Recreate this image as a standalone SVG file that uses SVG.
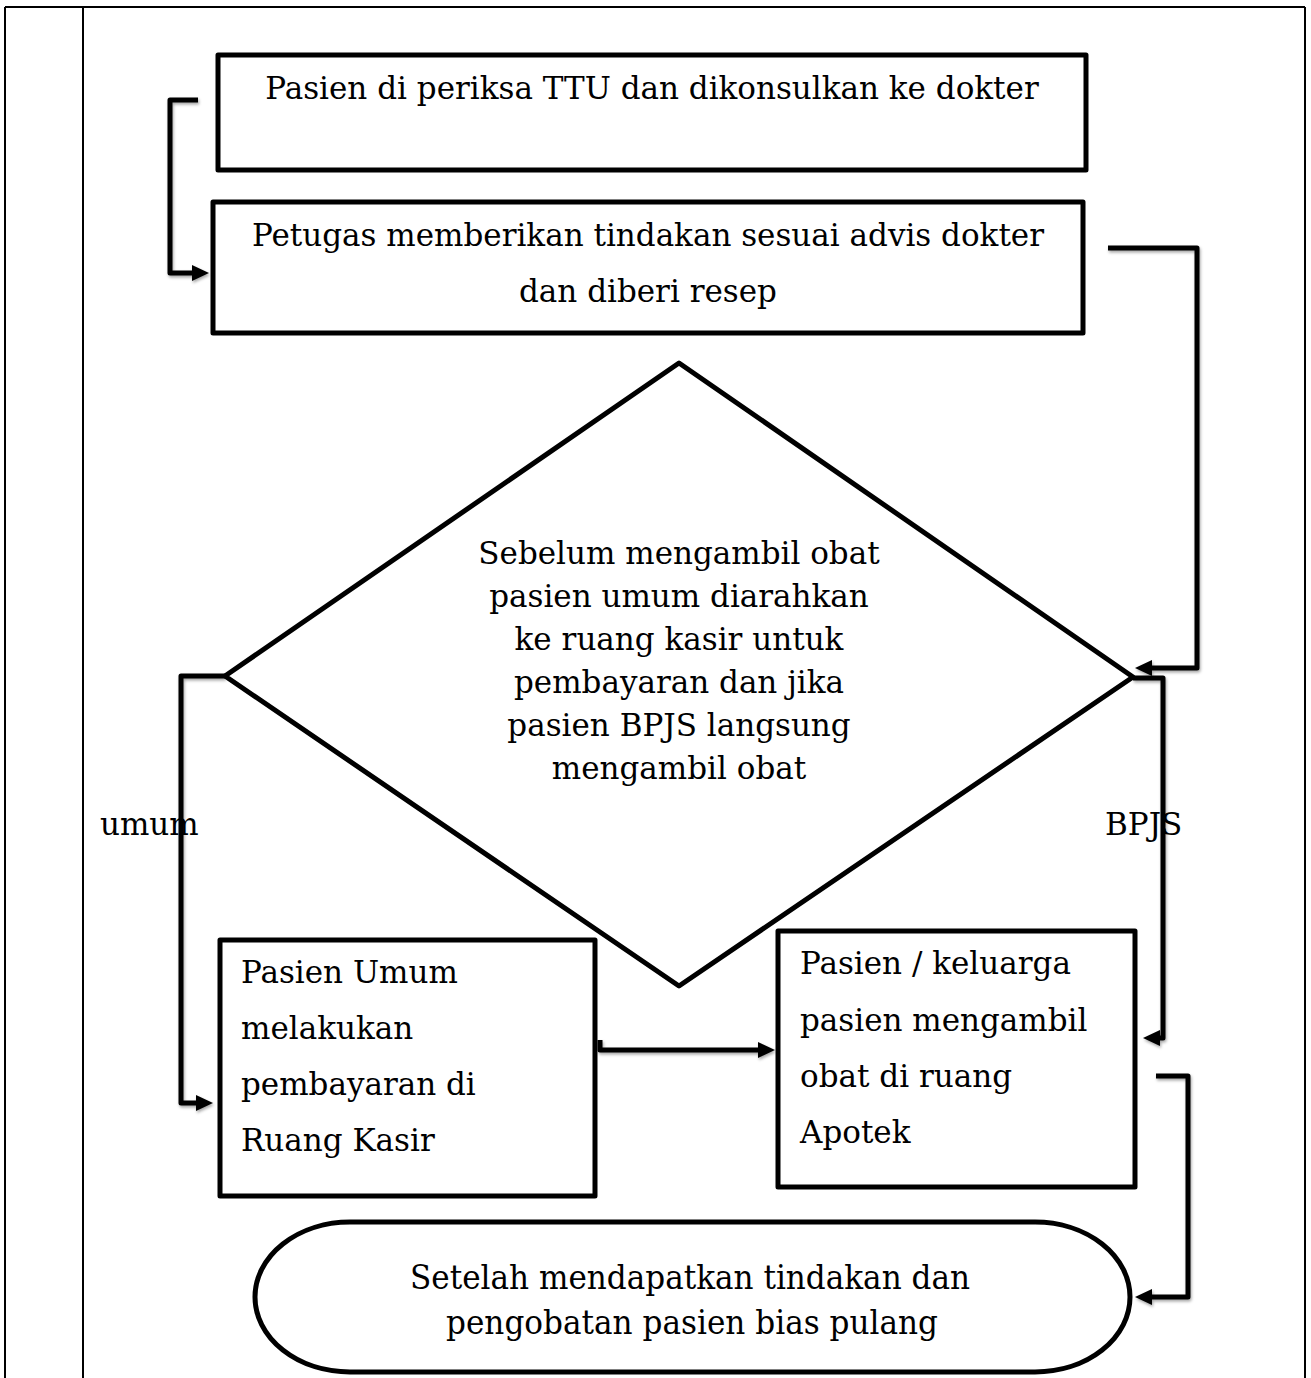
<svg xmlns="http://www.w3.org/2000/svg" width="1311" height="1378" viewBox="0 0 1311 1378">
  <defs>
    <style>
      .frame { fill: none; stroke: #000; stroke-width: 2; }
      .shape { fill: #fff; stroke: #000; stroke-width: 5; stroke-linejoin: round; }
      .link { fill: none; stroke: #000; stroke-width: 5; stroke-linejoin: round; }
      .head { fill: #000; stroke: none; }
      .txt { font-family: "DejaVu Serif", "Liberation Serif", serif; font-size: 31px; fill: #000; }
      .tall { font-size: 34px; }
      .mid { text-anchor: middle; }
    </style>
    <filter id="shadow" x="-10%" y="-10%" width="130%" height="130%">
      <feDropShadow dx="1" dy="2" stdDeviation="1.5" flood-color="#000" flood-opacity="0.35"/>
    </filter>
  </defs>

  <rect width="1311" height="1378" fill="#fff"/>

  <!-- table frame -->
  <g id="frame">
    <line class="frame" x1="5" y1="7" x2="1305" y2="7"/>
    <line class="frame" x1="5" y1="7" x2="5" y2="1378"/>
    <line class="frame" x1="83" y1="7" x2="83" y2="1378"/>
    <line class="frame" x1="1305" y1="7" x2="1305" y2="1378"/>
  </g>

  <!-- connectors: elbow lines with filled triangular heads -->
  <g id="connectors" filter="url(#shadow)">
    <path class="link" d="M198,100 H170 V273 H194"/>
    <polygon class="head" points="209,273 192,265 192,281"/>

    <path class="link" d="M1108,248 H1197 V668 H1150"/>
    <polygon class="head" points="1135,668 1152,660 1152,676"/>

    <path class="link" d="M225,676 H181 V1103 H198"/>
    <polygon class="head" points="213,1103 196,1095 196,1111"/>

    <path class="link" d="M1133,678 H1163 V1038 H1158"/>
    <polygon class="head" points="1143,1038 1160,1030 1160,1046"/>

    <path class="link" d="M600,1040 V1050 H760"/>
    <polygon class="head" points="775,1050 758,1042 758,1058"/>

    <path class="link" d="M1156,1076 H1188 V1297 H1150"/>
    <polygon class="head" points="1135,1297 1152,1289 1152,1305"/>
  </g>

  <g id="node-periksa">
    <rect class="shape" x="218" y="55" width="868" height="115"/>
    <text class="txt mid" x="652" y="99">Pasien di periksa TTU dan dikonsulkan ke dokter</text>
  </g>

  <g id="node-tindakan">
    <rect class="shape" x="213" y="202" width="870" height="131"/>
    <text class="txt mid" x="648" y="246">Petugas memberikan tindakan sesuai advis dokter</text>
    <text class="txt mid" x="648" y="302">dan diberi resep</text>
  </g>

  <g id="node-keputusan">
    <polygon class="shape" points="679,363 1133,677 679,986 225,676"/>
    <text class="txt mid" x="679" y="564">Sebelum mengambil obat</text>
    <text class="txt mid" x="679" y="607">pasien umum diarahkan</text>
    <text class="txt mid" x="679" y="650">ke ruang kasir untuk</text>
    <text class="txt mid" x="679" y="693">pembayaran dan jika</text>
    <text class="txt mid" x="679" y="736">pasien BPJS langsung</text>
    <text class="txt mid" x="679" y="779">mengambil obat</text>
  </g>

  <g id="label-umum">
    <text class="txt" x="100" y="835">umum</text>
  </g>
  <g id="label-bpjs">
    <text class="txt" x="1105" y="835">BPJS</text>
  </g>

  <g id="node-kasir">
    <rect class="shape" x="220" y="940" width="375" height="256"/>
    <text class="txt" x="241" y="983">Pasien Umum</text>
    <text class="txt" x="241" y="1039">melakukan</text>
    <text class="txt" x="241" y="1095">pembayaran di</text>
    <text class="txt" x="241" y="1151">Ruang Kasir</text>
  </g>

  <g id="node-apotek">
    <rect class="shape" x="778" y="931" width="357" height="256"/>
    <text class="txt" x="800" y="974">Pasien / keluarga</text>
    <text class="txt" x="800" y="1031">pasien mengambil</text>
    <text class="txt" x="800" y="1087">obat di ruang</text>
    <text class="txt" x="800" y="1143">Apotek</text>
  </g>

  <g id="node-pulang">
    <rect class="shape" x="255" y="1222" width="875" height="150" rx="95" ry="75"/>
    <text class="txt tall mid" x="690" y="1289" textLength="560" lengthAdjust="spacingAndGlyphs">Setelah mendapatkan tindakan dan</text>
    <text class="txt tall mid" x="692" y="1334" textLength="492" lengthAdjust="spacingAndGlyphs">pengobatan pasien bias pulang</text>
  </g>
</svg>
